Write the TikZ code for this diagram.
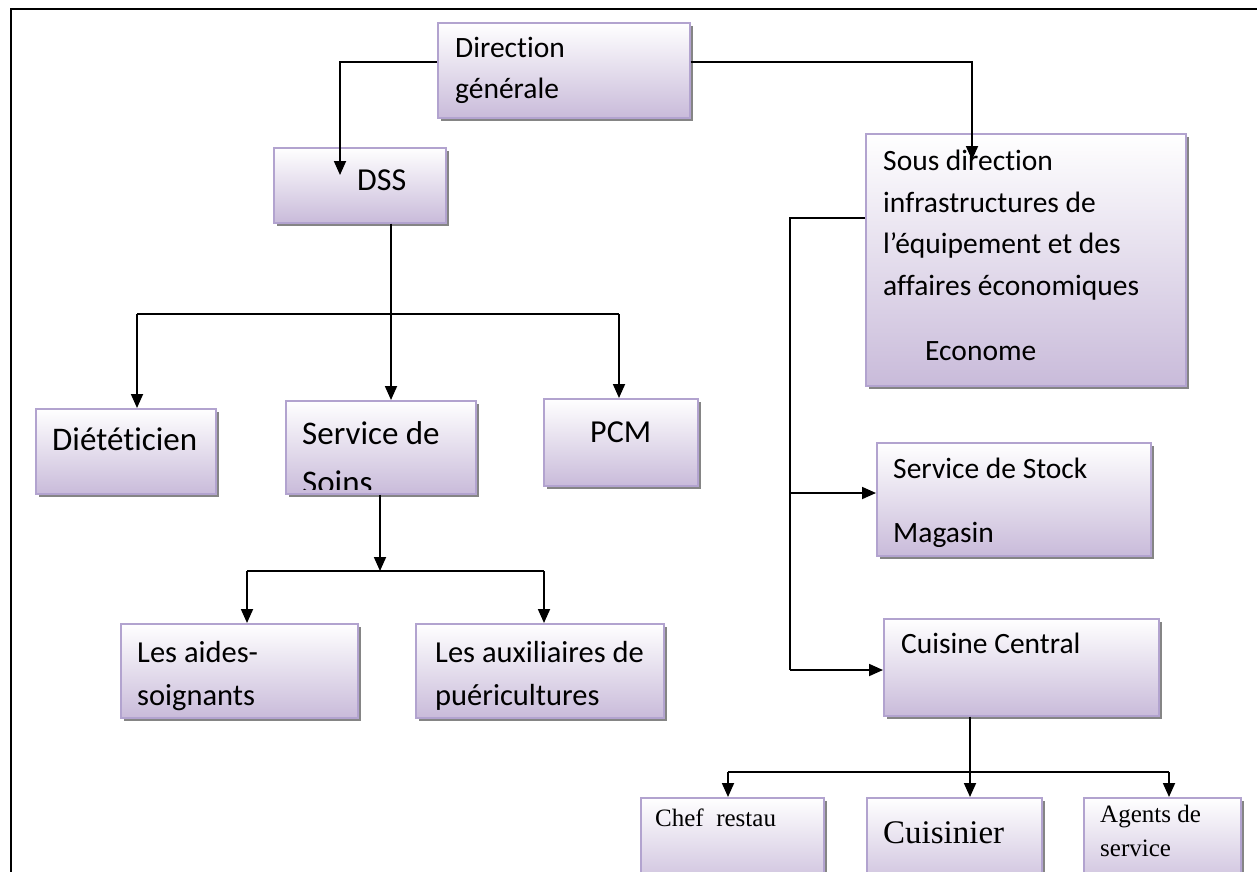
\documentclass[tikz,border=0pt]{standalone}
\usepackage{fontspec}
\setmainfont{Carlito}[Ligatures=NoCommon]
\newfontfamily\timesfont{Liberation Serif}
\usetikzlibrary{arrows.meta,shadows}
\definecolor{boxedge}{HTML}{B2A3CF}
\definecolor{lav}{HTML}{C9BBDA}
\definecolor{shadowgray}{HTML}{858585}

\begin{document}
\begin{tikzpicture}[x=1pt,y=-1pt,
  box/.style={draw=boxedge, line width=1.5pt, top color=white, bottom color=lav,
    anchor=north west, inner sep=0pt,
    general shadow={fill=shadowgray, shadow xshift=3pt, shadow yshift=-3pt}},
  txt/.style={anchor=base west, inner sep=0pt, font=\fontsize{29.5}{35}\selectfont},
  bigtxt/.style={txt, font=\fontsize{33}{40}\selectfont},
  sertxt/.style={anchor=base west, inner sep=0pt, font=\timesfont\fontsize{25}{30}\selectfont},
  conn/.style={draw, line width=1.8pt},
  arr/.style={conn, -{Triangle[length=14pt,width=12pt]}}
]
\useasboundingbox (0,0) rectangle (1257,871);

% outer frame (top and left rules)
\draw[line width=2pt] (11,880) -- (11,9) -- (1257,9);

% boxes
\node[box, minimum width=252pt, minimum height=95pt] (dg) at (437,22) {};
\node[box, minimum width=172pt, minimum height=75pt] (dss) at (273,147) {};
\node[box, minimum width=320pt, minimum height=252pt] (sd) at (865,133) {};
\node[box, minimum width=180pt, minimum height=85pt] (diet) at (35,408) {};
\node[box, minimum width=190pt, minimum height=93pt] (soins) at (285,400) {};
\node[box, minimum width=154pt, minimum height=87pt] (pcm) at (543,398) {};
\node[box, minimum width=237pt, minimum height=94pt] (aides) at (120,623) {};
\node[box, minimum width=248pt, minimum height=94pt] (aux) at (415,623) {};
\node[box, minimum width=274pt, minimum height=113pt] (stock) at (876,442) {};
\node[box, minimum width=275pt, minimum height=97pt] (cuis) at (883,618) {};
\node[box, minimum width=183pt, minimum height=95pt] (chef) at (640,797) {};
\node[box, minimum width=175pt, minimum height=95pt] (cuisinier) at (866,797) {};
\node[box, minimum width=157pt, minimum height=95pt] (agents) at (1083,797) {};

% labels
\node[txt] (tdg1) at (455,57) {Direction};
\node[txt] (tdg2) at (455,98) {générale};
\node[txt, font=\fontsize{32}{38}\selectfont] (tdss) at (357,190) {DSS};
\node[txt] (tsd1) at (883,170) {Sous direction};
\node[txt] (tsd2) at (883,212) {infrastructures de};
\node[txt] (tsd3) at (883,253) {l’équipement et des};
\node[txt] (tsd4) at (883,295) {affaires économiques};
\node[txt] (tsd5) at (925,360) {Econome};
\node[bigtxt] (tdiet) at (52,450) {Diététicien};
\node[bigtxt] (tsoins1) at (302,444) {Service de};
\begin{scope}
  \clip (285,400) rectangle (475,489);
  \node[bigtxt] (tsoins2) at (302,493) {Soins};
\end{scope}
\node[txt, font=\fontsize{32}{38}\selectfont] (tpcm) at (590,442) {PCM};
\node[txt, font=\fontsize{30.5}{36}\selectfont] (taides1) at (137,662) {Les aides-};
\node[txt, font=\fontsize{30.5}{36}\selectfont] (taides2) at (137,705) {soignants};
\node[txt, font=\fontsize{30.5}{36}\selectfont] (taux1) at (435,662) {Les auxiliaires de};
\node[txt, font=\fontsize{30.5}{36}\selectfont] (taux2) at (435,705) {puéricultures};
\node[txt] (tstock1) at (893,478) {Service de Stock};
\begin{scope}
  \clip (876,442) rectangle (1150,546);
  \node[txt] (tstock2) at (893,542) {Magasin};
\end{scope}
\node[txt] (tcuis) at (901,653) {Cuisine Central};
\node[sertxt] (tchef) at (655,826) {Chef~ restau};
\node[sertxt, font=\timesfont\fontsize{33}{40}\selectfont] (tcuisinier) at (883,843) {Cuisinier};
\node[sertxt] (tag1) at (1100,822) {Agents de};
\node[sertxt] (tag2) at (1100,856) {service};

% connector geometry
\coordinate (yDG) at (0,62);
\coordinate (tipDSS) at (340,175);
\coordinate (tipSD) at (972,160);
\coordinate (busL) at (137,314);
\coordinate (busR) at (619,314);
\coordinate (vS) at (391,0);
\coordinate (v2) at (380,0);
\coordinate (bus2L) at (247,571);
\coordinate (bus2R) at (544,571);
\coordinate (brTop) at (790,218);
\coordinate (brMid) at (790,493);
\coordinate (brBot) at (790,670);
\coordinate (v3) at (970,0);
\coordinate (bus3L) at (728,772);
\coordinate (bus3R) at (1169,772);

% Direction générale
\draw[arr] (dg.west |- yDG) -| (tipDSS);
\draw[arr] (dg.east |- yDG) -| (tipSD);

% DSS branches
\draw[conn] (busL) -- (busR);
\draw[arr] (dss.south -| vS) -- (soins.north -| vS);
\draw[arr] (busL) -- (busL |- diet.north);
\draw[arr] (busR) -- (busR |- pcm.north);

% Service de Soins branches
\draw[arr] (soins.south -| v2) -- (v2 |- bus2L);
\draw[conn] (bus2L) -- (bus2R);
\draw[arr] (bus2L) -- (bus2L |- aides.north);
\draw[arr] (bus2R) -- (bus2R |- aux.north);

% Sous direction branches
\draw[conn] (sd.west |- brTop) -- (brTop) -- (brBot);
\draw[arr] (brMid) -- (brMid -| stock.west);
\draw[arr] (brBot) -- (brBot -| cuis.west);

% Cuisine Central branches
\draw[conn] (bus3L) -- (bus3R);
\draw[arr] (cuis.south -| v3) -- (v3 |- cuisinier.north);
\draw[arr] (bus3L) -- (bus3L |- chef.north);
\draw[arr] (bus3R) -- (bus3R |- agents.north);
\end{tikzpicture}
\end{document}
